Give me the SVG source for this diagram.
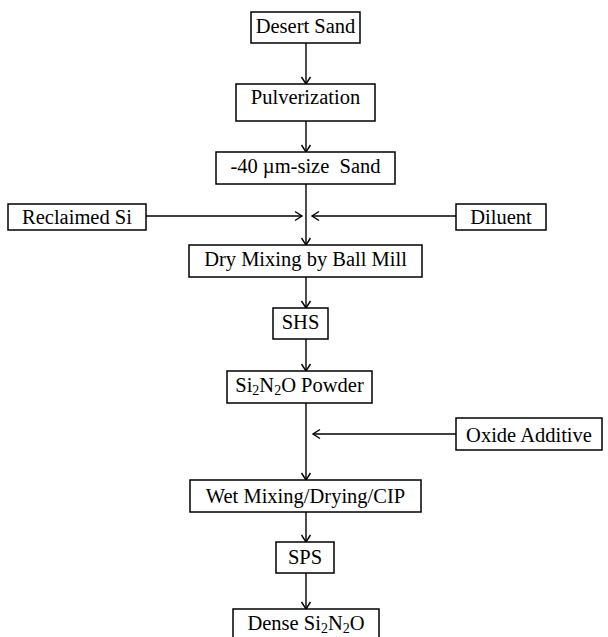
<svg xmlns="http://www.w3.org/2000/svg" width="608" height="637" viewBox="0 0 608 637">
<defs>
<style>
rect{fill:#fff;stroke:#000;stroke-width:1.5}
text{font-family:'Liberation Serif','Times New Roman',serif;font-size:20.5px;fill:#000;text-anchor:middle;white-space:pre}
.sub{font-size:14px}
#connectors line{stroke:#000;stroke-width:1.4;fill:none;marker-end:url(#arr)}
</style>
<marker id="arr" markerUnits="userSpaceOnUse" markerWidth="12" markerHeight="12" viewBox="0 0 12 12" refX="10" refY="6" orient="auto">
<path d="M3,1.5 L10,6 L3,10.5" fill="none" stroke="#000" stroke-width="1.4"/>
</marker>
</defs>
<rect x="0" y="0" width="608" height="637" style="fill:#fff;stroke:none"/>
<g id="connectors">
<line x1="306" y1="43" x2="306" y2="84"/>
<line x1="306" y1="121" x2="306" y2="152"/>
<line x1="306" y1="184" x2="306" y2="245"/>
<line x1="146" y1="216" x2="302" y2="216"/>
<line x1="456" y1="216" x2="312" y2="216"/>
<line x1="306" y1="277" x2="306" y2="308"/>
<line x1="306" y1="339" x2="306" y2="371"/>
<line x1="306" y1="403" x2="306" y2="480"/>
<line x1="456" y1="434" x2="313" y2="434"/>
<line x1="306" y1="512" x2="306" y2="542"/>
<line x1="306" y1="573" x2="306" y2="609"/>
</g>
<g id="desert-sand"><rect x="251" y="12" width="109" height="31"/><text x="305.5" y="33">Desert Sand</text></g>
<g id="pulverization"><rect x="236" y="84" width="139" height="37"/><text x="305.5" y="104">Pulverization</text></g>
<g id="sand-40"><rect x="216" y="152" width="179" height="32"/><text x="305.5" y="173">-40 µm-size  Sand</text></g>
<g id="reclaimed-si"><rect x="8" y="204" width="138" height="26"/><text x="77" y="224">Reclaimed Si</text></g>
<g id="diluent"><rect x="456" y="204" width="90" height="26"/><text x="501" y="224">Diluent</text></g>
<g id="dry-mixing"><rect x="189" y="245" width="233" height="32"/><text x="305.5" y="266">Dry Mixing by Ball Mill</text></g>
<g id="shs"><rect x="273" y="308" width="55" height="31"/><text x="300.5" y="329">SHS</text></g>
<g id="si2n2o-powder"><rect x="227" y="371" width="145" height="32"/><text x="299.5" y="392">Si<tspan class="sub" baseline-shift="-3">2</tspan>N<tspan class="sub" baseline-shift="-3">2</tspan>O Powder</text></g>
<g id="oxide-additive"><rect x="456" y="418" width="146" height="32"/><text x="529" y="442">Oxide Additive</text></g>
<g id="wet-mixing"><rect x="190" y="480" width="231" height="32"/><text x="305.5" y="503">Wet Mixing/Drying/CIP</text></g>
<g id="sps"><rect x="276" y="542" width="58" height="31"/><text x="305" y="564">SPS</text></g>
<g id="dense-si2n2o"><rect x="233" y="609" width="146" height="29"/><text x="306" y="630">Dense Si<tspan class="sub" baseline-shift="-3">2</tspan>N<tspan class="sub" baseline-shift="-3">2</tspan>O</text></g>
</svg>
